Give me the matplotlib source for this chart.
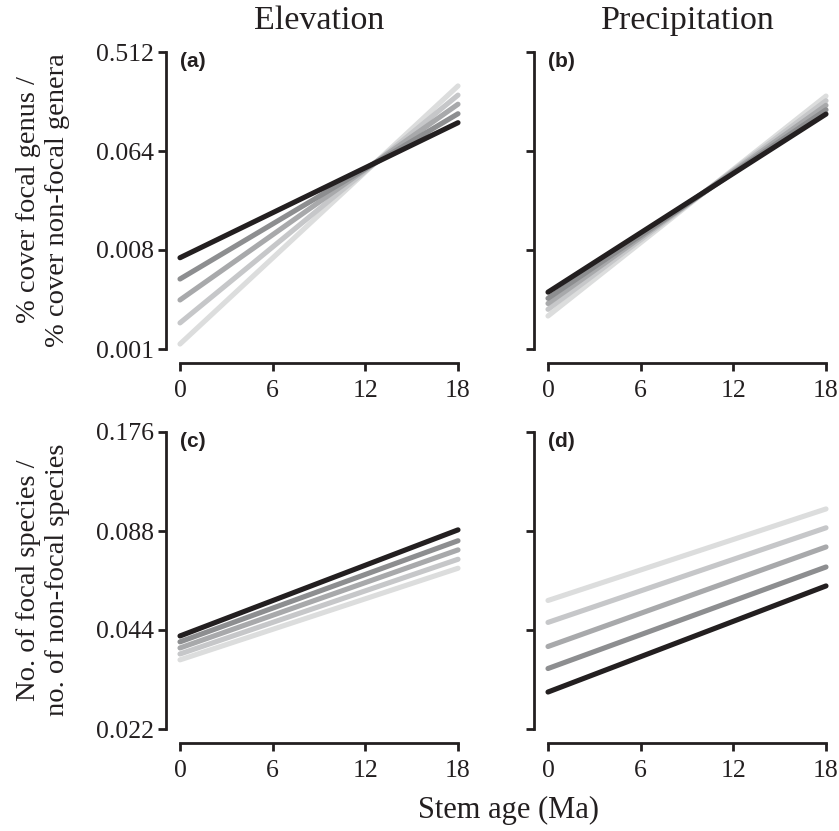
import matplotlib.pyplot as plt
from matplotlib.ticker import FixedLocator, FixedFormatter, NullLocator

# stem age endpoints (Ma)
stem_age = [0, 18]

# fitted values at stem age 0 and 18, ordered dark -> light
elev_cover_0 = [0.0068, 0.00435, 0.0028, 0.00173, 0.00111]
elev_cover_18 = [0.116, 0.140, 0.171, 0.207, 0.251]
precip_cover_0 = [0.0033, 0.0029, 0.0026, 0.0023, 0.0020]
precip_cover_18 = [0.139, 0.152, 0.167, 0.184, 0.203]
elev_species_0 = [0.0422, 0.0405, 0.0388, 0.0372, 0.0357]
elev_species_18 = [0.0887, 0.0822, 0.0771, 0.0722, 0.0678]
precip_species_0 = [0.0285, 0.0336, 0.0392, 0.0464, 0.0541]
precip_species_18 = [0.0599, 0.0684, 0.0787, 0.0900, 0.1027]

shades = ['#231f20', '#8d8e90', '#a8a9ab', '#c6c7c9', '#dcdddd']

cover_ticks = [0.001, 0.008, 0.064, 0.512]
cover_labels = ['0.001', '0.008', '0.064', '0.512']
species_ticks = [0.022, 0.044, 0.088, 0.176]
species_labels = ['0.022', '0.044', '0.088', '0.176']
x_ticks = [0, 6, 12, 18]

plt.rcParams['font.family'] = 'Liberation Serif'

fig = plt.figure(figsize=(8.39, 8.31), dpi=100)

w = 278 / 839
h = 297 / 831
positions = {
    'a': [180 / 839, 482 / 831, w, h],
    'b': [548 / 839, 482 / 831, w, h],
    'c': [180 / 839, 102 / 831, w, h],
    'd': [548 / 839, 102 / 831, w, h],
}

panels = [
    ('a', elev_cover_0, elev_cover_18, cover_ticks, cover_labels, True),
    ('b', precip_cover_0, precip_cover_18, cover_ticks, cover_labels, False),
    ('c', elev_species_0, elev_species_18, species_ticks, species_labels, True),
    ('d', precip_species_0, precip_species_18, species_ticks, species_labels, False),
]

for key, y0, y18, yt, yl, show_labels in panels:
    ax = fig.add_axes(positions[key])
    ax.set_yscale('log', base=2)
    # draw lightest first so the dark line sits on top
    for i in reversed(range(len(y0))):
        ax.plot(stem_age, [y0[i], y18[i]], color=shades[i], lw=3.7,
                solid_capstyle='round', clip_on=False)
    ax.set_xlim(0, 18)
    ax.set_ylim(yt[0], yt[-1])
    ax.yaxis.set_major_locator(FixedLocator(yt))
    ax.yaxis.set_minor_locator(NullLocator())
    if show_labels:
        ax.yaxis.set_major_formatter(FixedFormatter(yl))
    else:
        ax.set_yticklabels([])
    ax.set_xticks(x_ticks)
    ax.set_xticklabels([str(t) for t in x_ticks])
    for s in ['top', 'right']:
        ax.spines[s].set_visible(False)
    for s in ['left', 'bottom']:
        ax.spines[s].set_position(('outward', 10))
        ax.spines[s].set_linewidth(2)
        ax.spines[s].set_color('#231f20')
    ax.spines['bottom'].set_bounds(0, 18)
    ax.spines['left'].set_bounds(yt[0], yt[-1])
    ax.tick_params(length=6, width=2, color='#231f20', labelsize=18.5,
                   labelcolor='#231f20')
    ax.tick_params(axis='x', pad=6)
    ax.tick_params(axis='y', pad=3)
    ax.text(0.0, 1.0, f'({key})', transform=ax.transAxes, ha='left', va='top',
            fontsize=15, fontweight='bold', family='Liberation Sans', color='#231f20')

fig.text(319 / 839, 1 - 21 / 831, 'Elevation', ha='center', va='center',
         fontsize=24.5, color='#231f20')
fig.text(688 / 839, 1 - 21 / 831, 'Precipitation', ha='center', va='center',
         fontsize=24.5, color='#231f20')

fig.text(43 / 839, 1 - 200 / 831, '% cover focal genus /\n% cover non-focal genera',
         rotation=90, ha='center', va='center', multialignment='center',
         fontsize=20.5, color='#231f20', linespacing=1.25)
fig.text(43 / 839, 1 - 580 / 831, 'No. of focal species /\nno. of non-focal species',
         rotation=90, ha='center', va='center', multialignment='center',
         fontsize=20.5, color='#231f20', linespacing=1.25)

fig.text(508 / 839, 1 - 810 / 831, 'Stem age (Ma)', ha='center', va='center',
         fontsize=22, color='#231f20')

fig.savefig('out.png', dpi=100)
